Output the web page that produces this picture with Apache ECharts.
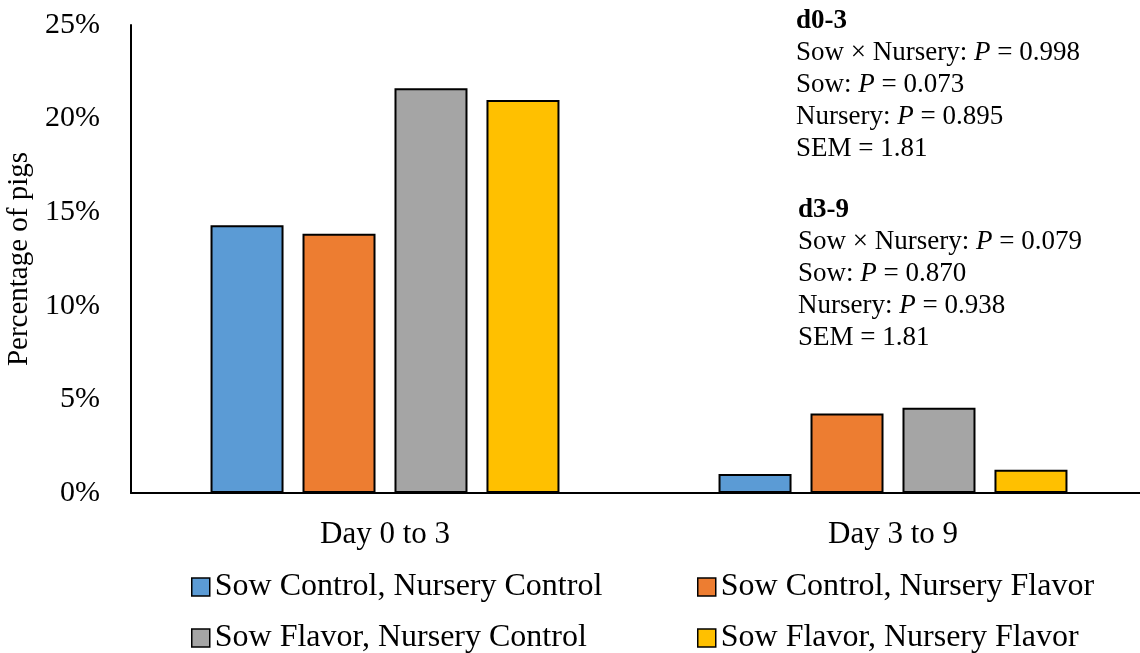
<!DOCTYPE html>
<html>
<head>
<meta charset="utf-8">
<script src="https://cdn.jsdelivr.net/npm/echarts@6/dist/echarts.min.js"></script>
<style>
html,body{margin:0;padding:0;background:#fff;}
#chart{width:1140px;height:653px;}
</style>
</head>
<body>
<div id="chart"></div>
<script>
var categories = ['Day 0 to 3', 'Day 3 to 9'];
var seriesNames = ['Sow Control, Nursery Control', 'Sow Control, Nursery Flavor', 'Sow Flavor, Nursery Control', 'Sow Flavor, Nursery Flavor'];
var scNc = [14.3, 1.02];
var scNf = [13.85, 4.25];
var sfNc = [21.62, 4.56];
var sfNf = [21.0, 1.24];
var seriesValues = [scNc, scNf, sfNc, sfNf];
var colors = ['#5B9BD5', '#ED7D31', '#A5A5A5', '#FFC000'];
var yTicks = [0, 5, 10, 15, 20, 25];
var note1 = ['{b|d0-3}', 'Sow × Nursery: {i|P} = 0.998', 'Sow: {i|P} = 0.073', 'Nursery: {i|P} = 0.895', 'SEM = 1.81'];
var note2 = ['{b|d3-9}', 'Sow × Nursery: {i|P} = 0.079', 'Sow: {i|P} = 0.870', 'Nursery: {i|P} = 0.938', 'SEM = 1.81'];

var FONT = '"Liberation Serif", "Times New Roman", serif';
var chart = echarts.init(document.getElementById('chart'), null, {renderer: 'canvas'});

var series = seriesNames.map(function (name, i) {
  return {
    name: name,
    type: 'bar',
    data: seriesValues[i],
    barWidth: 73,
    barGap: '26%',
    itemStyle: {color: colors[i], borderColor: '#000', borderWidth: 2},
    emphasis: {disabled: true}
  };
});

var richStyle = {
  b: {fontFamily: FONT, fontSize: 27, fontWeight: 'bold', fill: '#000', lineHeight: 32},
  i: {fontFamily: FONT, fontSize: 27, fontStyle: 'italic', fill: '#000', lineHeight: 32}
};

function makeLegend(left, names) {
  return {
    orient: 'vertical',
    left: left,
    top: 571,
    height: 120,
    padding: 0,
    data: names,
    itemWidth: 18,
    itemHeight: 18,
    itemGap: 19,
    icon: 'rect',
    selectedMode: false,
    itemStyle: {borderWidth: 1.5},
    textStyle: {fontFamily: FONT, fontSize: 32, color: '#000', lineHeight: 32, padding: [0, 0, 0, 0]}
  };
}

chart.setOption({
  animation: false,
  backgroundColor: '#fff',
  color: colors,
  grid: {left: 131, right: -7, top: 25, bottom: 160, containLabel: false, outerBoundsMode: 'none'},
  legend: [
    makeLegend(191, [seriesNames[0], seriesNames[2]]),
    makeLegend(697, [seriesNames[1], seriesNames[3]])
  ],
  xAxis: {
    type: 'category',
    data: categories,
    axisLine: {lineStyle: {color: '#000', width: 2}},
    axisTick: {show: false},
    axisLabel: {fontFamily: FONT, fontSize: 31, color: '#000', margin: 26}
  },
  yAxis: {
    type: 'value',
    min: yTicks[0],
    max: yTicks[yTicks.length - 1],
    interval: 5,
    name: 'Percentage of pigs',
    nameLocation: 'middle',
    nameGap: 92,
    nameRotate: 90,
    nameTextStyle: {fontFamily: FONT, fontSize: 29, color: '#000'},
    axisLine: {show: true, lineStyle: {color: '#000', width: 2}},
    axisTick: {show: false},
    splitLine: {show: false},
    axisLabel: {fontFamily: FONT, fontSize: 30, color: '#000', margin: 31, formatter: '{value}%'}
  },
  graphic: [
    {type: 'text', left: 796, top: 5, style: {text: note1.join('\n'), fontFamily: FONT, fontSize: 27, fill: '#000', lineHeight: 32, rich: richStyle}},
    {type: 'text', left: 798, top: 194, style: {text: note2.join('\n'), fontFamily: FONT, fontSize: 27, fill: '#000', lineHeight: 32, rich: richStyle}}
  ],
  series: series
});
</script>
</body>
</html>
